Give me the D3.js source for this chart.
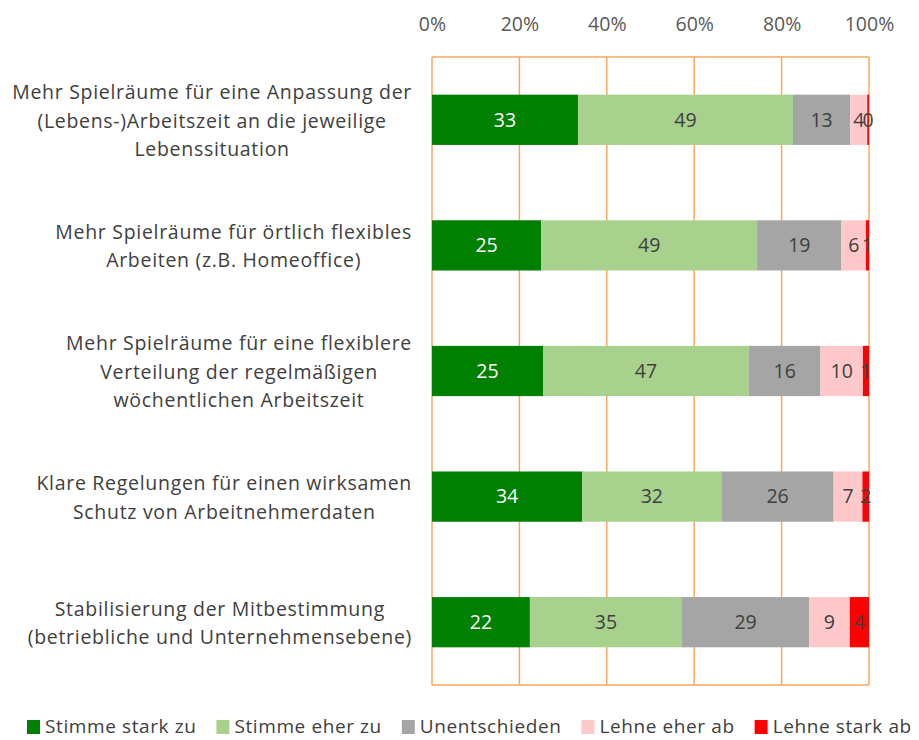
<!DOCTYPE html>
<html>
<head>
<meta charset="utf-8">
<script src="https://cdn.jsdelivr.net/npm/d3@7"></script>
<style>
body { margin: 0; background: #fff; }
svg { display: block; font-family: "Open Sans", sans-serif; }
</style>
</head>
<body>
<div id="chart"></div>
<script>
var categories = [
  ["Mehr Spielräume für eine Anpassung der", "(Lebens-)Arbeitszeit an die jeweilige", "Lebenssituation"],
  ["Mehr Spielräume für örtlich flexibles", "Arbeiten (z.B. Homeoffice)"],
  ["Mehr Spielräume für eine flexiblere", "Verteilung der regelmäßigen", "wöchentlichen Arbeitszeit"],
  ["Klare Regelungen für einen wirksamen", "Schutz von Arbeitnehmerdaten"],
  ["Stabilisierung der Mitbestimmung", "(betriebliche und Unternehmensebene)"]
]
var seriesNames = ["Stimme stark zu", "Stimme eher zu", "Unentschieden", "Lehne eher ab", "Lehne stark ab"]
var seriesColors = ["#008000", "#a9d18e", "#a5a5a5", "#ffc9cc", "#ff0000"]

var starkZu       = [33.4, 25.0, 25.4, 34.4, 22.4]
var eherZu        = [49.2, 49.4, 47.1, 31.9, 34.8]
var unentschieden = [13.1, 19.3, 16.4, 25.7, 29.1]
var eherAb        = [ 3.9,  5.6,  9.7,  6.6,  9.3]
var starkAb       = [ 0.4,  0.7,  1.4,  1.5,  4.4]

var tickValues = [0, 0.2, 0.4, 0.6, 0.8, 1]

var width = 919, height = 740
var margin = {top: 57, right: 50, bottom: 55, left: 432}

var allSeries = [starkZu, eherZu, unentschieden, eherAb, starkAb]
var rows = categories.map(function(c, i){
    var r = {idx: i}
    seriesNames.forEach(function(s, j){ r[s] = allSeries[j][i] })
    return r
})

var svg = d3.select("#chart").append("svg")
    .attr("width", width)
    .attr("height", height)

var x = d3.scaleLinear().domain([0, 1]).range([432, 869])
var y = d3.scaleBand().domain(d3.range(categories.length))
    .range([margin.top, height - margin.bottom])
    .paddingInner(0.6).paddingOuter(0.3)

var gridColor = "#f9a85e"

// grid lines + frame
svg.append("g").selectAll("line.grid")
    .data(tickValues).enter()
    .append("line")
    .attr("x1", function(d){ return x(d) })
    .attr("x2", function(d){ return x(d) })
    .attr("y1", margin.top)
    .attr("y2", height - margin.bottom)
    .attr("stroke", gridColor)
    .attr("stroke-width", 1.5)
svg.append("line")
    .attr("x1", x(0)).attr("x2", x(1))
    .attr("y1", margin.top).attr("y2", margin.top)
    .attr("stroke", gridColor).attr("stroke-width", 1.5)
svg.append("line")
    .attr("x1", x(0)).attr("x2", x(1))
    .attr("y1", height - margin.bottom).attr("y2", height - margin.bottom)
    .attr("stroke", gridColor).attr("stroke-width", 1.5)

// top axis labels
var axis = svg.append("g")
    .attr("transform", "translate(0," + 31 + ")")
    .call(d3.axisTop(x).tickValues(tickValues).tickFormat(d3.format(".0%")).tickSize(0).tickPadding(0))
axis.select(".domain").remove()
axis.selectAll("text")
    .attr("dy", 0)
    .style("font-family", "'Open Sans', sans-serif")
    .style("font-size", "19.5px")
    .attr("fill", "#595959")

// stacked bars
var stack = d3.stack().keys(seriesNames).offset(d3.stackOffsetExpand)
var stacked = stack(rows)

var layers = svg.append("g").selectAll("g.layer")
    .data(stacked).enter()
    .append("g")
    .attr("fill", function(d, i){ return seriesColors[i] })

layers.selectAll("rect")
    .data(function(d){ return d }).enter()
    .append("rect")
    .attr("x", function(d){ return x(d[0]) })
    .attr("width", function(d){ return x(d[1]) - x(d[0]) })
    .attr("y", function(d){ return y(d.data.idx) })
    .attr("height", y.bandwidth())

// value labels
stacked.forEach(function(layer, j){
    svg.append("g").selectAll("text")
        .data(layer).enter()
        .append("text")
        .attr("x", function(d){ return (x(d[0]) + x(d[1])) / 2 })
        .attr("y", function(d){ return y(d.data.idx) + y.bandwidth() / 2 })
        .attr("dy", "0.35em")
        .attr("text-anchor", "middle")
        .style("font-size", "19.5px")
        .attr("fill", j === 0 ? "#ffffff" : "#404040")
        .text(function(d){ return Math.round(d.data[layer.key]) })
})

// category labels: lines centred within a block right-aligned to the axis
var lineH = 28.5
categories.forEach(function(lines, i){
    var g = svg.append("g")
    var texts = g.selectAll("text").data(lines).enter()
        .append("text")
        .attr("text-anchor", "middle")
        .style("font-size", "19.5px")
        .style("letter-spacing", "0.7px")
        .attr("fill", "#404040")
        .text(function(d){ return d })
    var maxW = d3.max(texts.nodes(), function(n){ return n.getComputedTextLength() })
    var cx = 412 - maxW / 2
    var cy = y(i) + y.bandwidth() / 2 + 1
    texts.attr("x", cx)
        .attr("y", function(d, k){ return cy + (k - (lines.length - 1) / 2) * lineH })
        .attr("dy", "0.35em")
})

// legend
var legend = svg.append("g")
var lx = 27, ly = 726
seriesNames.forEach(function(s, i){
    legend.append("rect")
        .attr("x", lx).attr("y", ly - 6)
        .attr("width", 13).attr("height", 14)
        .attr("fill", seriesColors[i])
    var t = legend.append("text")
        .attr("x", lx + 18).attr("y", ly)
        .attr("dy", "0.35em")
        .style("font-size", "19px")
        .style("letter-spacing", "0.6px")
        .attr("fill", "#404040")
        .text(s)
    lx += 18 + t.node().getComputedTextLength() + 20
})
</script>
</body>
</html>
